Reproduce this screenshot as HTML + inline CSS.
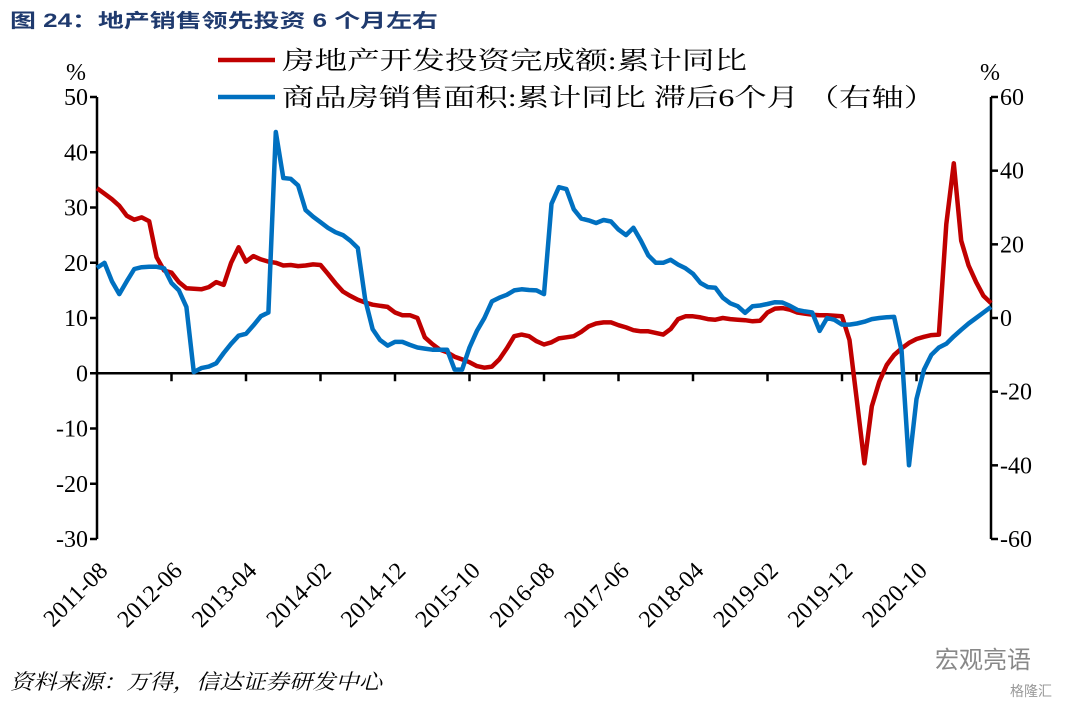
<!DOCTYPE html>
<html><head><meta charset="utf-8"><style>
body{margin:0;background:#fff;}
svg{display:block;}
</style></head><body>
<svg id="chart" width="1080" height="704" xmlns="http://www.w3.org/2000/svg">
<text x="10" y="27" font-family="'Liberation Sans','Noto Sans CJK SC',sans-serif" font-weight="bold" font-size="19" fill="#1f3a6e" textLength="428" lengthAdjust="spacingAndGlyphs">图 24：地产销售领先投资 6 个月左右</text>
<g>
<line x1="218" y1="60" x2="275" y2="60" stroke="#c00000" stroke-width="4.5"/>
<text x="282" y="69" font-family="'Liberation Serif','Noto Serif CJK SC',serif" font-size="25" fill="#000" textLength="465" lengthAdjust="spacingAndGlyphs">房地产开发投资完成额:累计同比</text>
<line x1="218" y1="97" x2="275" y2="97" stroke="#0070c0" stroke-width="4.5"/>
<text x="282" y="106" font-family="'Liberation Serif','Noto Serif CJK SC',serif" font-size="25" fill="#000" textLength="654" lengthAdjust="spacingAndGlyphs">商品房销售面积:累计同比 滞后6个月 （右轴）</text>
</g>
<text x="66" y="80" font-family="'Liberation Serif',serif" font-size="24">%</text>
<text x="980" y="80" font-family="'Liberation Serif',serif" font-size="24">%</text>
<g id="axes"></g>
<g id="series"></g>
<text x="10" y="689" font-family="'Liberation Serif','Noto Serif CJK SC',serif" font-style="italic" font-size="21" fill="#000" textLength="372" lengthAdjust="spacingAndGlyphs">资料来源：万得，信达证券研发中心</text>
<text x="935" y="668" font-family="'Liberation Sans','Noto Sans CJK SC',sans-serif" font-size="24" fill="#888">宏观亮语</text>
<text x="1010" y="696" font-family="'Liberation Sans','Noto Sans CJK SC',sans-serif" font-size="14" fill="#999">格隆汇</text>
</svg>
<script>
const xLabels = ["2011-08","2012-06","2013-04","2014-02","2014-12","2015-10","2016-08","2017-06","2018-04","2019-02","2019-12","2020-10"];
const leftTicks = [50,40,30,20,10,0,-10,-20,-30];
const rightTicks = [60,40,20,0,-20,-40,-60];
const investment = [33.5,32.5,31.5,30.3,28.5,27.8,28.2,27.5,21,18.6,18.2,16.5,15.4,15.3,15.2,15.6,16.5,16,20,22.8,20.2,21.2,20.6,20.2,20,19.5,19.6,19.4,19.5,19.7,19.6,18,16.3,14.8,14,13.3,12.8,12.4,12.2,12,11,10.5,10.5,10,6.5,5.3,4.3,3.8,3,2.5,2,1.3,1,1.2,2.5,4.5,6.7,7,6.7,5.8,5.2,5.6,6.3,6.5,6.7,7.5,8.5,9,9.2,9.2,8.7,8.3,7.8,7.6,7.6,7.3,7,8,9.8,10.3,10.3,10.1,9.8,9.7,10,9.8,9.7,9.6,9.4,9.5,11,11.7,11.8,11.5,11,10.8,10.6,10.5,10.5,10.4,10.3,6,-5,-16.3,-6,-1.5,1.5,3.3,4.5,5.5,6.2,6.6,6.9,7,27,38,24,19.5,16.5,14,12.7];
const salesLagged = [13.6,15,10,6.5,10,13.3,13.8,13.9,13.9,13.5,9.5,7.5,3,-14.7,-13.6,-13.2,-12.3,-9.5,-7,-4.8,-4.3,-2,0.5,1.5,50.5,38,37.8,36,29.3,27.5,26,24.5,23.3,22.5,21,19,5,-3,-6,-7.5,-6.5,-6.5,-7.3,-8,-8.3,-8.6,-8.6,-8.6,-14,-14,-8,-3.5,0,4.5,5.5,6.3,7.5,7.8,7.6,7.5,6.5,31,35.5,35,29.5,27,26.5,25.8,26.6,26.2,24,22.5,24.5,21,17,15,15,15.8,14.5,13.5,12,9.5,8.4,8.2,5.5,4,3.2,1.4,3.2,3.4,3.8,4.3,4.2,3.3,2.2,1.8,1.5,-3.5,0,-0.5,-1.8,-1.8,-1.5,-1,-0.3,0,0.2,0.3,-9,-40,-22,-14,-10,-8,-7,-5,-3.2,-1.5,0,1.5,3];

const NS="http://www.w3.org/2000/svg";
const X0=97, X1=991, YT=97, YB=539;
const nPts = investment.length;
const xs = i => X0 + i*(X1-X0)/(nPts-1);
const yL = v => YT + (50-v)*(YB-YT)/80;
const yR = v => YT + (60-v)*(YB-YT)/120;
function mk(tag, attrs, parent){const e=document.createElementNS(NS,tag);for(const k in attrs)e.setAttribute(k,attrs[k]);parent.appendChild(e);return e;}
const axes=document.getElementById('axes'), series=document.getElementById('series');
const serif="'Liberation Serif',serif";

let la=mk('line',{x1:X0,y1:YT,x2:X0,y2:YB,stroke:'#000','stroke-width':2.5},axes);


leftTicks.forEach(v=>{
  const t=mk('line',{x1:X0-7,y1:yL(v),x2:X0,y2:yL(v),stroke:'#000','stroke-width':2.5},axes);
  
  
  const l=mk('text',{x:88,y:yL(v)+8,'text-anchor':'end','font-family':serif,'font-size':24},axes);
  l.textContent=v;
  
  
});
let ra=mk('line',{x1:X1,y1:YT,x2:X1,y2:YB,stroke:'#000','stroke-width':2.5},axes);


rightTicks.forEach(v=>{
  const t=mk('line',{x1:X1,y1:yR(v),x2:X1+7,y2:yR(v),stroke:'#000','stroke-width':2.5},axes);
  
  
  const l=mk('text',{x:1000,y:yR(v)+8,'text-anchor':'start','font-family':serif,'font-size':24},axes);
  l.textContent=v;
  
  
});
let xa=mk('line',{x1:X0,y1:yL(0),x2:X1,y2:yL(0),stroke:'#000','stroke-width':2.5},axes);


xLabels.forEach((lab,k)=>{
  const i=k*10, x=xs(i);
  if(k>0){
    const t=mk('line',{x1:x,y1:yL(0),x2:x,y2:yL(0)+8,stroke:'#000','stroke-width':2.5},axes);
    
    
  }
  const l=mk('text',{x:0,y:0,'text-anchor':'end','font-family':serif,'font-size':24,transform:`translate(${x+12},${572}) rotate(-45)`},axes);
  l.textContent=lab;
  
  
});
function path(arr, yf){return arr.map((v,i)=>(i?'L':'M')+xs(i).toFixed(1)+','+yf(v).toFixed(1)).join(' ');}
const pr=mk('path',{d:path(investment,yL),fill:'none',stroke:'#c00000','stroke-width':4.5,'stroke-linejoin':'round'},series);


const pb=mk('path',{d:path(salesLagged,yR),fill:'none',stroke:'#0070c0','stroke-width':4.5,'stroke-linejoin':'round'},series);


</script>
</body></html>
